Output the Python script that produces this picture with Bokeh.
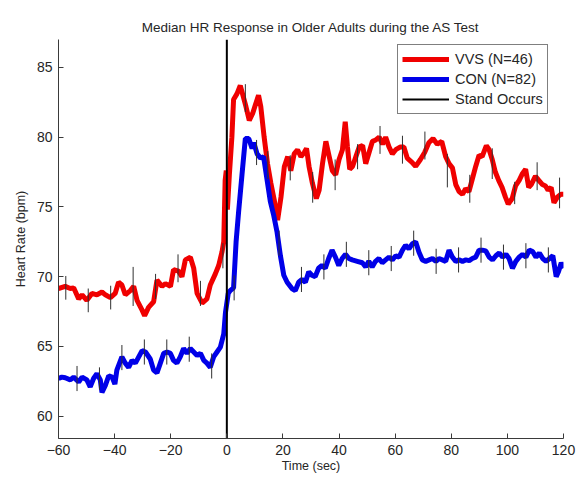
from bokeh.plotting import figure
from bokeh.models import FixedTicker, Range1d
from bokeh.embed import file_html
from bokeh.resources import INLINE

# ---------------- data ----------------
vvs_t = [-60.0, -57.6, -55.8, -54.6, -52.8, -51.6, -49.9, -48.1, -46.3, -44.5, -43.3, -41.5, -39.8, -38.6,
         -37.4, -36.2, -34.4, -33.2, -32.0, -30.2, -29.3, -27.9, -26.1, -24.9, -23.1, -21.9, -20.1, -19.0,
         -17.2, -16.0, -14.8, -13.0, -11.8, -10.6, -8.8, -7.1, -5.9, -4.1, -2.9, -1.7, -1.1, -0.6, -0.2,
         0.2, 0.9, 1.8, 2.4, 3.6, 4.8, 5.6, 6.8, 8.0, 9.2, 10.3, 11.3, 12.1, 13.3, 14.5, 15.7, 16.9, 18.1,
         19.3, 20.5, 21.7, 22.8, 24.0, 25.2, 26.4, 27.6, 28.4, 29.3, 30.5, 31.9, 32.9, 34.1, 35.3, 36.5,
         37.6, 38.8, 40.0, 41.2, 42.2, 43.0, 43.8, 44.8, 46.0, 47.2, 48.4, 49.5, 50.7, 51.9, 53.1, 54.3,
         55.5, 56.6, 57.8, 59.0, 60.2, 61.9, 63.1, 64.3, 66.0, 67.3, 69.0, 70.5, 72.0, 73.5, 75.0, 76.6,
         78.0, 79.2, 80.4, 81.6, 82.8, 84.0, 85.1, 86.3, 87.5, 88.7, 89.9, 91.0, 92.5, 93.5, 94.6, 95.7,
         96.9, 98.1, 99.3, 100.3, 101.7, 102.9, 104.2, 105.4, 106.5, 107.6, 108.5, 110.0, 111.2, 112.5,
         113.6, 114.5, 115.6, 116.6, 117.8, 119.0, 120.0]
vvs_hr = [69.15, 69.3, 69.15, 69.2, 68.4, 68.7, 68.3, 68.8, 68.7, 68.9, 68.7, 68.5, 68.8, 69.6,
          69.4, 68.7, 69.0, 69.3, 68.3, 67.6, 67.2, 67.8, 68.2, 69.75, 69.3, 69.5, 69.3, 70.5,
          70.4, 70.0, 71.2, 71.4, 70.6, 68.8, 68.1, 68.4, 69.4, 70.2, 70.8, 71.8, 72.5, 76.9, 77.6,
          74.8, 77.3, 80.0, 82.7, 83.1, 83.7, 83.1, 82.2, 81.2, 81.7, 82.4, 83.0, 82.2, 80.0, 78.1, 76.7, 75.5, 74.05,
          75.7, 77.9, 78.6, 77.6, 78.8, 79.1, 78.6, 78.9, 79.2, 77.9, 76.7, 75.6, 76.2, 78.1, 79.7, 78.6,
          77.6, 77.3, 78.4, 79.1, 81.1, 79.3, 77.7, 77.9, 78.6, 79.3, 79.4, 78.1, 78.9, 79.7, 79.8, 80.0,
          79.5, 80.0, 79.3, 78.8, 79.1, 79.3, 79.3, 78.5, 78.2, 77.9, 78.4, 78.9, 79.6, 79.9, 79.5, 79.7,
          78.6, 78.1, 77.8, 76.6, 76.1, 75.9, 76.3, 76.1, 77.0, 77.9, 78.7, 78.6, 79.4, 79.1, 78.4, 77.5,
          76.9, 76.4, 75.7, 75.2, 75.6, 76.5, 76.9, 77.4, 77.7, 76.4, 76.6, 77.2, 76.9, 76.6,
          76.5, 76.2, 76.4, 75.3, 75.7, 75.9, 75.9]

con_t = [-60.0, -58.8, -57.6, -55.8, -54.6, -52.8, -51.6, -49.9, -48.7, -47.5, -46.3, -45.1, -44.5, -43.3,
         -42.1, -40.9, -39.9, -39.2, -37.4, -36.2, -35.0, -33.8, -32.6, -31.4, -30.2, -29.0, -27.3, -26.1,
         -24.9, -23.7, -22.5, -21.3, -20.1, -19.0, -17.8, -16.6, -15.4, -14.2, -13.0, -11.8, -10.6, -9.4,
         -8.2, -7.1, -5.9, -4.7, -3.5, -2.3, -1.1, -0.5, 0.5, 1.2, 2.4, 3.3, 4.2, 5.4, 6.6, 7.8, 9.0, 9.6,
         10.8, 12.0, 13.1, 14.3, 15.5, 16.7, 17.9, 19.1, 20.3, 21.5, 23.2, 24.4, 25.6, 26.8, 28.0, 29.2,
         30.3, 31.5, 32.7, 33.9, 35.1, 36.3, 37.5, 38.7, 39.9, 41.1, 42.3, 43.5, 44.7, 46.5, 48.3, 49.5,
         50.6, 51.8, 53.0, 54.2, 55.4, 56.6, 57.8, 59.0, 60.2, 61.4, 62.6, 63.7, 64.9, 66.1, 67.3, 68.5,
         69.7, 70.9, 72.1, 73.3, 74.5, 75.6, 76.8, 78.0, 79.2, 80.4, 81.6, 82.8, 84.0, 85.2, 86.4, 87.5,
         88.7, 89.9, 91.1, 92.3, 93.5, 94.7, 95.9, 97.1, 98.3, 99.5, 100.6, 101.8, 103.0, 104.2, 105.4,
         106.6, 107.8, 109.0, 110.2, 111.4, 112.6, 113.8, 115.0, 116.2, 117.4, 118.2, 119.2, 120.0]
con_hr = [62.7, 62.8, 62.75, 62.6, 62.8, 62.45, 62.8, 62.6, 62.1, 62.7, 63.05, 62.6, 61.7, 62.2,
          62.9, 62.8, 62.3, 63.3, 64.25, 63.8, 63.5, 64.0, 63.8, 64.25, 64.7, 64.6, 64.1, 63.3,
          63.1, 63.8, 64.5, 64.6, 64.5, 64.0, 63.8, 64.25, 64.85, 64.5, 64.85, 64.6, 64.35, 64.5,
          64.0, 63.8, 63.5, 64.25, 64.6, 64.95, 65.9, 67.4, 68.8, 69.0, 69.2, 72.5, 74.65, 77.3, 79.9, 79.9, 79.2, 79.6,
          78.8, 78.5, 78.6, 77.0, 75.4, 74.4, 73.2, 71.5, 70.1, 69.6, 69.15, 69.0, 69.6, 69.8, 69.6, 70.35,
          70.1, 70.0, 70.6, 70.8, 70.6, 71.3, 71.9, 71.4, 70.8, 71.3, 71.6, 71.3, 71.2, 71.1, 71.0, 70.7,
          71.1, 70.7, 71.1, 71.3, 71.0, 71.2, 71.4, 71.2, 71.5, 71.4, 71.9, 72.25, 72.0, 72.35, 72.5, 71.75,
          71.2, 71.1, 71.2, 71.3, 71.1, 71.3, 71.2, 71.1, 71.9, 71.4, 71.1, 71.2, 71.1, 71.2, 71.15, 71.3,
          71.4, 71.9, 71.9, 71.85, 71.4, 71.2, 71.5, 71.7, 71.4, 71.6, 71.3, 70.6, 71.1, 71.4, 71.6,
          71.4, 71.9, 71.8, 71.4, 71.7, 71.3, 71.1, 71.3, 71.5, 70.0, 70.35, 71.0, 70.6]

# error bars (time, centre, half-length)
vvs_err_t = [-57.4, -49.4, -41.4, -33.4, -25.4, -17.4, -9.4, -1.4, 6.6, 14.6, 22.6, 30.6, 38.6, 46.6,
             54.6, 62.6, 70.6, 78.6, 86.6, 94.6, 102.6, 110.6, 118.6]
vvs_err_c = [69.2, 68.3, 68.5, 69.3, 69.3, 70.6, 68.8, 71.5, 82.8, 78.0, 77.8, 76.4, 77.3, 78.6,
             79.8, 79.1, 79.4, 77.6, 76.3, 78.1, 76.0, 77.2, 76.0]
vvs_err_h = [0.85, 0.85, 0.85, 1.4, 0.9, 1.0, 0.9, 0.9, 1.0, 1.0, 0.9, 1.1, 1.1, 0.9,
             1.0, 1.0, 1.0, 1.2, 1.0, 1.1, 0.8, 1.0, 1.1]
con_err_t = [-53.4, -45.4, -37.4, -29.4, -21.4, -13.4, -5.4, 2.6, 10.6, 18.6, 26.6, 34.6, 42.6, 50.6,
             58.6, 66.6, 74.6, 82.6, 90.6, 98.6, 106.6, 114.6]
con_err_c = [62.7, 62.7, 64.2, 64.6, 64.6, 64.8, 63.6, 69.2, 78.9, 72.4, 69.8, 70.7, 71.6, 71.0,
             71.3, 72.4, 71.1, 71.2, 71.9, 71.4, 71.5, 71.2]
con_err_h = [0.9, 0.8, 0.9, 0.9, 0.9, 0.9, 0.9, 0.9, 0.9, 0.9, 0.9, 0.9, 0.9, 0.9,
             0.9, 0.9, 0.9, 0.9, 0.9, 0.9, 0.9, 0.9]

stand_t = [0, 0]
y_limits = [58.4, 87.0]
x_limits = [-60, 120]
x_ticks = [-60, -40, -20, 0, 20, 40, 60, 80, 100, 120]
y_ticks = [60, 65, 70, 75, 80, 85]

FONT = "Liberation Sans"
TXT = "#262626"
AX = "#3a3a3a"

p = figure(width=576, height=477, output_backend="svg", toolbar_location=None,
           x_range=Range1d(*x_limits), y_range=Range1d(*y_limits),
           min_border_left=58, min_border_right=13, min_border_top=39, min_border_bottom=39,
           title="Median HR Response in Older Adults during the AS Test")
p.title.align = "center"
p.title.text_font = FONT
p.title.text_font_size = "13.5px"
p.title.text_font_style = "normal"
p.title.text_color = TXT
p.title.standoff = 10

p.outline_line_color = None
p.grid.visible = False
p.background_fill_color = "white"

for ax in (p.xaxis[0], p.yaxis[0]):
    ax.axis_line_color = AX
    ax.axis_line_width = 1
    ax.major_tick_line_color = AX
    ax.major_tick_in = 5
    ax.major_tick_out = 0
    ax.minor_tick_line_color = None
    ax.major_label_text_font = FONT
    ax.major_label_text_font_size = "14px"
    ax.major_label_text_color = TXT
    ax.axis_label_text_font = FONT
    ax.axis_label_text_font_size = "12.5px"
    ax.axis_label_text_font_style = "normal"
    ax.axis_label_text_color = TXT

p.xaxis.ticker = FixedTicker(ticks=x_ticks)
p.yaxis.ticker = FixedTicker(ticks=y_ticks)
p.xaxis.axis_label = "Time (sec)"
p.yaxis.axis_label = "Heart Rate (bpm)"
p.xaxis.major_label_standoff = 6
p.yaxis.major_label_standoff = 6
p.xaxis.axis_label_standoff = 1
p.yaxis.axis_label_standoff = 6

p.line(vvs_t, vvs_hr, line_color="#f00000", line_width=5, legend_label="VVS (N=46)")
p.line(con_t, con_hr, line_color="#0000e8", line_width=5, legend_label="CON (N=82)")

p.segment(x0=vvs_err_t, y0=[c - h for c, h in zip(vvs_err_c, vvs_err_h)],
          x1=vvs_err_t, y1=[c + h for c, h in zip(vvs_err_c, vvs_err_h)],
          line_color="#303030", line_width=1)
p.segment(x0=con_err_t, y0=[c - h for c, h in zip(con_err_c, con_err_h)],
          x1=con_err_t, y1=[c + h for c, h in zip(con_err_c, con_err_h)],
          line_color="#303030", line_width=1)

p.line(stand_t, y_limits, line_color="black", line_width=2, legend_label="Stand Occurs")

lg = p.legend[0]
lg.location = (339, 324)
lg.border_line_color = "black"
lg.border_line_width = 1
lg.background_fill_color = "white"
lg.background_fill_alpha = 1
lg.label_text_font = FONT
lg.label_text_font_size = "14.5px"
lg.label_text_color = TXT
lg.glyph_width = 47
lg.glyph_height = 20
lg.label_height = 20
lg.spacing = 0
lg.padding = 4
lg.margin = 0
lg.label_standoff = 6

open("out.html", "w").write(file_html(p, INLINE))
